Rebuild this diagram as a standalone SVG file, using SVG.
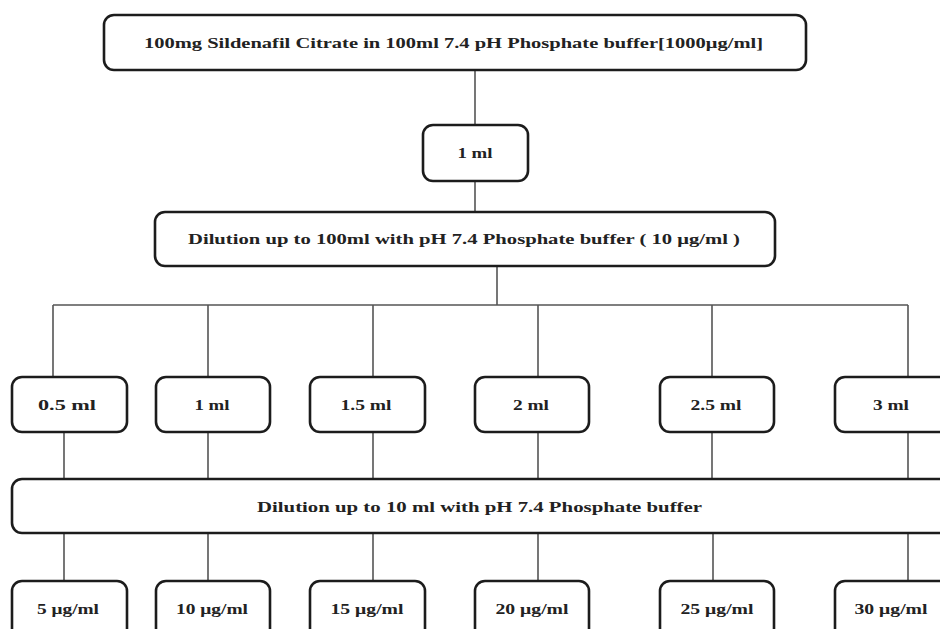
<svg xmlns="http://www.w3.org/2000/svg" width="940" height="629" viewBox="0 0 940 629">
<style>
.box{fill:#fff;stroke:#1c1c1c;stroke-width:2.6}
.lbl{font-family:"Liberation Serif","Times New Roman",serif;font-weight:bold;font-size:15px;fill:#222;text-anchor:middle;dominant-baseline:central}
.con{stroke:#555;stroke-width:1.6;fill:none}
</style>
<rect width="940" height="629" fill="#fff"/>
<g id="connectors">
<path class="con" d="M475 70V125M475 181V212M497 266V305M53 305H908M53 305V377M208 305V377M373 305V377M538 305V377M712 305V377M908 305V377"/>
<path class="con" d="M64 432V479M208 432V479M373 432V479M538 432V479M712 432V479M908 432V479"/>
<path class="con" d="M64 533V581M208 533V581M373 533V581M538 533V581M713 533V581M908 533V581"/>
</g>
<g id="stock">
<rect class="box" x="104" y="15" width="702" height="55" rx="10"/>
<text class="lbl" x="453.5" y="43" textLength="619" lengthAdjust="spacingAndGlyphs">100mg Sildenafil Citrate in 100ml 7.4 pH Phosphate buffer[1000μg/ml]</text>
</g>
<g id="aliquot">
<rect class="box" x="423" y="125" width="105" height="56" rx="10"/>
<text class="lbl" x="475" y="153" textLength="35" lengthAdjust="spacingAndGlyphs">1 ml</text>
</g>
<g id="dilution1">
<rect class="box" x="155" y="212" width="620" height="54" rx="10"/>
<text class="lbl" x="464" y="239" textLength="552" lengthAdjust="spacingAndGlyphs">Dilution up to 100ml with pH 7.4  Phosphate buffer ( 10 μg/ml )</text>
</g>
<g id="v05">
<rect class="box" x="12" y="377" width="115" height="55" rx="10"/>
<text class="lbl" x="67" y="405" textLength="58" lengthAdjust="spacingAndGlyphs">0.5  ml</text>
</g>
<g id="v1">
<rect class="box" x="156" y="377" width="114" height="55" rx="10"/>
<text class="lbl" x="212" y="405" textLength="35" lengthAdjust="spacingAndGlyphs">1 ml</text>
</g>
<g id="v15">
<rect class="box" x="310" y="377" width="115" height="55" rx="10"/>
<text class="lbl" x="366" y="405" textLength="51" lengthAdjust="spacingAndGlyphs">1.5 ml</text>
</g>
<g id="v2">
<rect class="box" x="475" y="377" width="114" height="55" rx="10"/>
<text class="lbl" x="531" y="405" textLength="36" lengthAdjust="spacingAndGlyphs">2 ml</text>
</g>
<g id="v25">
<rect class="box" x="660" y="377" width="114" height="55" rx="10"/>
<text class="lbl" x="716" y="405" textLength="51" lengthAdjust="spacingAndGlyphs">2.5 ml</text>
</g>
<g id="v3">
<rect class="box" x="835" y="377" width="120" height="55" rx="10"/>
<text class="lbl" x="891" y="405" textLength="36" lengthAdjust="spacingAndGlyphs">3 ml</text>
</g>
<g id="dilution2">
<rect class="box" x="12" y="479" width="945" height="54" rx="10"/>
<text class="lbl" x="479.5" y="507" textLength="445" lengthAdjust="spacingAndGlyphs">Dilution up to 10 ml with pH 7.4  Phosphate buffer</text>
</g>
<g id="c5">
<rect class="box" x="12" y="581" width="115" height="60" rx="10"/>
<text class="lbl" x="68" y="609" textLength="62" lengthAdjust="spacingAndGlyphs">5 μg/ml</text>
</g>
<g id="c10">
<rect class="box" x="156" y="581" width="114" height="60" rx="10"/>
<text class="lbl" x="212" y="609" textLength="72" lengthAdjust="spacingAndGlyphs">10 μg/ml</text>
</g>
<g id="c15">
<rect class="box" x="310" y="581" width="115" height="60" rx="10"/>
<text class="lbl" x="367" y="609" textLength="73" lengthAdjust="spacingAndGlyphs">15 μg/ml</text>
</g>
<g id="c20">
<rect class="box" x="475" y="581" width="114" height="60" rx="10"/>
<text class="lbl" x="532" y="609" textLength="73" lengthAdjust="spacingAndGlyphs">20 μg/ml</text>
</g>
<g id="c25">
<rect class="box" x="660" y="581" width="114" height="60" rx="10"/>
<text class="lbl" x="717" y="609" textLength="73" lengthAdjust="spacingAndGlyphs">25 μg/ml</text>
</g>
<g id="c30">
<rect class="box" x="835" y="581" width="120" height="60" rx="10"/>
<text class="lbl" x="891" y="609" textLength="73" lengthAdjust="spacingAndGlyphs">30 μg/ml</text>
</g>
</svg>
